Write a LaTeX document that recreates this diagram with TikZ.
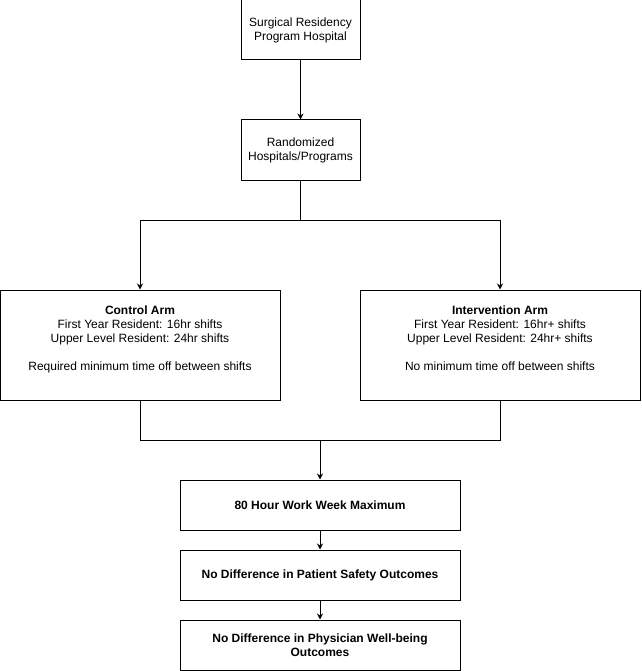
\documentclass[tikz,border=0pt]{standalone}
\usepackage{fontspec}
\setmainfont{Liberation Sans}
\usetikzlibrary{arrows.meta}

\begin{document}
\begin{tikzpicture}[x=1pt,y=-1pt,line width=1pt,
  >={Stealth[length=6pt,width=6pt]},
  step box/.style={rectangle,draw,align=center,inner sep=0pt,
    font=\fontsize{12}{14}\selectfont},
  small box/.style={step box,minimum width=119pt,minimum height=60pt},
  arm box/.style={step box,minimum width=280pt,minimum height=110pt},
  result box/.style={step box,minimum width=280pt,minimum height=50pt,
    font=\fontsize{12}{14}\selectfont\bfseries}]

  \useasboundingbox (0,0) rectangle (641,671);

  \node[small box] (hosp) at (300.5,30) {Surgical Residency\\Program Hospital};
  \node[small box] (rand) at (300.5,150) {Randomized\\Hospitals/Programs};

  \node[arm box] (ctrl) at (140,345) {{\bfseries Control Arm}\\
    First Year Resident: 16hr shifts\\
    Upper Level Resident: 24hr shifts\\[14pt]
    Required minimum time off between shifts\\\mbox{}};
  \node[arm box] (interv) at (500,345) {{\bfseries Intervention Arm}\\
    First Year Resident: 16hr+ shifts\\
    Upper Level Resident: 24hr+ shifts\\[14pt]
    No minimum time off between shifts\\\mbox{}};

  \node[result box] (cap) at (320,505) {80 Hour Work Week Maximum};
  \node[result box] (safety) at (320,575) {No Difference in Patient Safety Outcomes};
  \node[result box] (well) at (320,645) {No Difference in Physician Well-being\\Outcomes};

  \coordinate (split) at (300.5,220);
  \coordinate (merge) at (320,440);

  \draw[->] (hosp) -- (rand);
  \draw (rand) -- (split);
  \draw[->] (split) -| (ctrl);
  \draw[->] (split) -| (interv);
  \draw (ctrl) |- (merge);
  \draw (interv) |- (merge);
  \draw[->] (merge) -- (cap);
  \draw[->] (cap) -- (safety);
  \draw[->] (safety) -- (well);
\end{tikzpicture}
\end{document}
